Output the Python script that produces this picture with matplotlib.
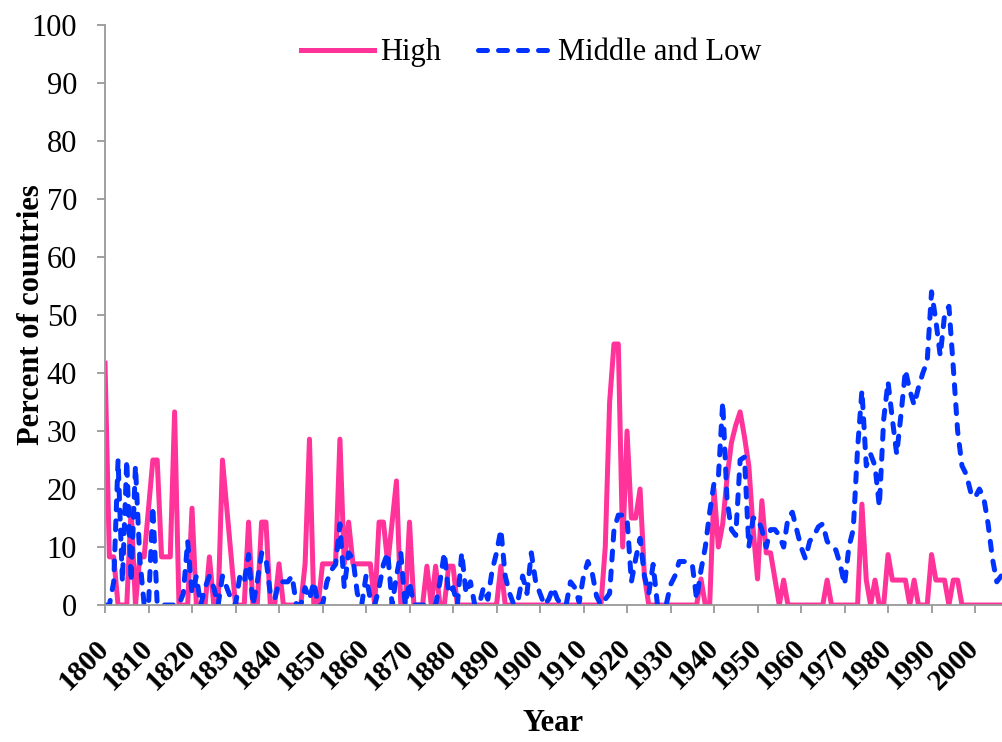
import numpy as np
import matplotlib
matplotlib.use("Agg")
import matplotlib.pyplot as plt
from matplotlib.transforms import ScaledTranslation

plt.rcParams['font.family'] = ['Liberation Serif', 'DejaVu Serif']

years = np.arange(1800, 2007)

# percent of high-income countries, one row per decade
high = [
    41.7, 8.3, 8.3, 0, 0, 0, 16.7, 0, 8.3, 8.3,
    16.7, 25, 25, 8.3, 8.3, 8.3, 33.3, 0, 0, 0,
    16.7, 0, 0, 0, 8.3, 0, 0, 25, 16.7, 8.3,
    0, 0, 0, 14.3, 0, 0, 14.3, 14.3, 0, 0,
    7.1, 0, 0, 0, 0, 0, 7.1, 28.6, 0, 0,
    7.1, 7.1, 7.1, 7.1, 28.6, 7.1, 14.3, 7.1, 7.1, 7.1,
    7.1, 7.1, 0, 14.3, 14.3, 7.1, 14.3, 21.4, 0, 0,
    14.3, 0, 0, 0, 6.7, 0, 6.7, 0, 0, 6.7,
    6.7, 0, 0, 0, 0, 0, 0, 0, 0, 0,
    0, 6.7, 0, 0, 0, 0, 0, 0, 0, 0,
    0, 0, 0, 0, 0, 0, 0, 0, 0, 0,
    0, 0, 0, 0, 0, 10, 35, 45, 45, 10,
    30, 15, 15, 20, 5, 0, 0, 0, 0, 0,
    0, 0, 0, 0, 0, 0, 0, 4.5, 0, 0,
    20, 10, 14, 22, 28, 31, 33.3, 29, 24, 13,
    4.5, 18, 9, 9, 4.5, 0, 4.3, 0, 0, 0,
    0, 0, 0, 0, 0, 0, 4.3, 0, 0, 0,
    0, 0, 0, 0, 17.4, 4.3, 0, 4.3, 0, 0,
    8.7, 4.3, 4.3, 4.3, 4.3, 0, 4.3, 0, 0, 0,
    8.7, 4.3, 4.3, 4.3, 0, 4.3, 4.3, 0, 0, 0,
    0, 0, 0, 0, 0, 0, 0,
]

# percent of middle and low income countries
mid_low = [
    0, 0, 4, 25, 4, 25, 4, 24, 8, 0,
    0, 17, 0, 0, 0, 0, 0, 0, 2, 11,
    2, 5, 0, 3, 5, 3, 0, 5, 3, 1,
    0, 5, 4, 8.7, 0, 4, 9, 8, 2, 1,
    4, 4, 4, 5, 0, 0, 3, 1, 4, 0,
    0, 4, 6, 7, 14, 3, 9, 8, 2, 0,
    5, 1, 0, 3, 7, 9, 0, 5, 9, 0,
    4, 0, 0, 0, 0, 0, 0, 4, 9, 2,
    3, 0, 9, 2, 4, 0, 0, 3, 1, 6,
    9, 13, 5, 2, 0, 1, 5, 2, 9, 4,
    2, 0, 1, 3, 1, 0, 0, 4, 3, 0.5,
    5, 7.5, 5.5, 1.5, 0, 1, 2, 13, 15.5, 15.5,
    15, 4, 8, 11.5, 5, 2, 7, 0, 0, 0,
    3.5, 5, 7.5, 7.5, 7.5, 7, 1, 6, 10, 16,
    21, 22, 35, 18, 13, 12, 25, 25.5, 10, 15,
    15, 13, 10, 13, 13, 12, 10, 15, 16, 13,
    10, 8, 11, 12, 13.5, 14, 11, 10, 9.5, 7,
    3.5, 10, 13, 27, 37, 24, 26, 24, 17, 32,
    38.5, 32, 26, 33, 40.5, 37, 34.5, 37.5, 40, 42,
    54, 49, 43, 50, 51.5, 41, 30, 24, 22.5, 19.5,
    18.5, 20, 18.5, 14, 8, 4, 5,
]

xticks = np.arange(1800, 2001, 10)
yticks = np.arange(0, 101, 10)

fig = plt.figure(figsize=(10.02, 7.42), dpi=100)
ax = fig.add_axes([0.1048, 0.1846, 0.8952, 0.7817])

ax.plot(years, high, color='#FF3399', lw=3.6, solid_joinstyle='round',
        label='High')
ax.plot(years, mid_low, color='#0033FF', lw=3.6, dashes=(1.8, 2.2),
        dash_capstyle='round', dash_joinstyle='round', label='Middle and Low')

ax.set_xlim(1800, 2006.2)
ax.set_ylim(0, 100)
ax.set_xticks(xticks)
ax.set_xticklabels([str(y) for y in xticks], rotation=45, ha='right',
                   va='center', rotation_mode='anchor', fontweight='bold',
                   fontsize=21)
# nudge the slanted year labels a little right, as in the original
shift = ScaledTranslation(0.07, -0.03, fig.dpi_scale_trans)
for lab in ax.get_xticklabels():
    lab.set_transform(lab.get_transform() + shift)

ax.set_yticks(yticks)
ax.tick_params(axis='y', labelsize=22, colors='#999999', labelcolor='black',
               length=6, width=1.3, pad=14)
ax.tick_params(axis='x', colors='#999999', labelcolor='black',
               length=6, width=1.3, pad=22)

for side in ['top', 'right']:
    ax.spines[side].set_visible(False)
for side in ['left', 'bottom']:
    ax.spines[side].set_color('#999999')
    ax.spines[side].set_linewidth(1.3)

ax.set_ylabel('Percent of countries', fontsize=22, fontweight='bold',
              va='center')
ax.yaxis.set_label_coords(-0.082, 0.5)
ax.set_xlabel('Year', fontsize=22, fontweight='bold', va='center')
ax.xaxis.set_label_coords(0.5, -0.205)

ax.legend(loc='center', bbox_to_anchor=(0.475, 0.952), ncol=2, frameon=False,
          fontsize=22, handlelength=2.4, handletextpad=0.2, columnspacing=1.2)

fig.savefig('out.png', dpi=100)
